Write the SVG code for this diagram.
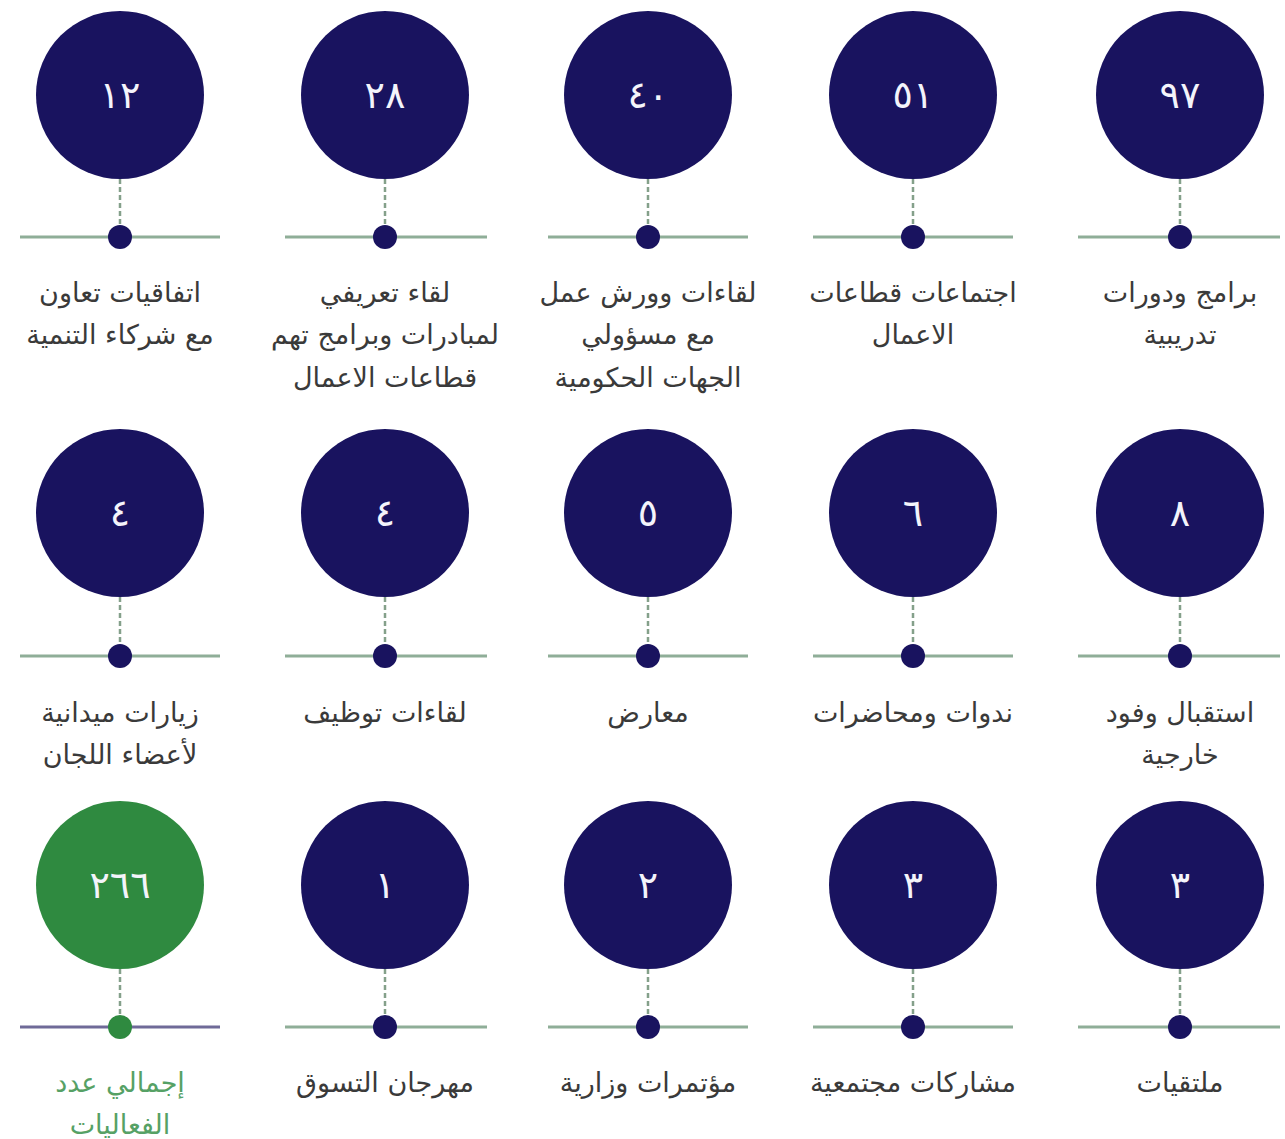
<svg xmlns="http://www.w3.org/2000/svg" width="1285" height="1139" viewBox="0 0 1285 1139">
<style>
.c{fill:#19135f}
.cg{fill:#2f8a40}
.num{font-family:"DejaVu Sans",sans-serif;font-size:38px;fill:#f4f4fb;text-anchor:middle;dominant-baseline:central}
.lbl{font-family:"DejaVu Sans","Noto Sans",sans-serif;font-size:27px;fill:#3a3a3a;text-anchor:middle}
.lblg{fill:#56a165}
.hl{stroke:#8fae98;stroke-width:3}
.hlp{stroke:#6f6a98;stroke-width:3}
.dl{stroke:#84a08a;stroke-width:2.5;stroke-dasharray:5 3}
.dot{fill:#19135f}
.dotg{fill:#2f8a40}
</style>
<rect width="1285" height="1139" fill="#ffffff"/>
<g id="connectors">
<line class="hl" x1="20" y1="237" x2="220" y2="237"/><line class="dl" x1="120" y1="179" x2="120" y2="226"/>
<line class="hl" x1="285" y1="237" x2="487" y2="237"/><line class="dl" x1="385" y1="179" x2="385" y2="226"/>
<line class="hl" x1="548" y1="237" x2="748" y2="237"/><line class="dl" x1="648" y1="179" x2="648" y2="226"/>
<line class="hl" x1="813" y1="237" x2="1013" y2="237"/><line class="dl" x1="913" y1="179" x2="913" y2="226"/>
<line class="hl" x1="1078" y1="237" x2="1280" y2="237"/><line class="dl" x1="1180" y1="179" x2="1180" y2="226"/>
<line class="hl" x1="20" y1="656" x2="220" y2="656"/><line class="dl" x1="120" y1="597" x2="120" y2="645"/>
<line class="hl" x1="285" y1="656" x2="487" y2="656"/><line class="dl" x1="385" y1="597" x2="385" y2="645"/>
<line class="hl" x1="548" y1="656" x2="748" y2="656"/><line class="dl" x1="648" y1="597" x2="648" y2="645"/>
<line class="hl" x1="813" y1="656" x2="1013" y2="656"/><line class="dl" x1="913" y1="597" x2="913" y2="645"/>
<line class="hl" x1="1078" y1="656" x2="1280" y2="656"/><line class="dl" x1="1180" y1="597" x2="1180" y2="645"/>
<line class="hlp" x1="20" y1="1027" x2="220" y2="1027"/><line class="dl" x1="120" y1="969" x2="120" y2="1016"/>
<line class="hl" x1="285" y1="1027" x2="487" y2="1027"/><line class="dl" x1="385" y1="969" x2="385" y2="1016"/>
<line class="hl" x1="548" y1="1027" x2="748" y2="1027"/><line class="dl" x1="648" y1="969" x2="648" y2="1016"/>
<line class="hl" x1="813" y1="1027" x2="1013" y2="1027"/><line class="dl" x1="913" y1="969" x2="913" y2="1016"/>
<line class="hl" x1="1078" y1="1027" x2="1280" y2="1027"/><line class="dl" x1="1180" y1="969" x2="1180" y2="1016"/>
</g>
<g id="n1"><circle class="c" cx="120" cy="95" r="84"/><text class="num" x="120" y="95">١٢</text><circle class="dot" cx="120" cy="237" r="12"/><text class="lbl" x="120" y="302">اتفاقيات تعاون</text><text class="lbl" x="120" y="344">مع شركاء التنمية</text></g>
<g id="n2"><circle class="c" cx="385" cy="95" r="84"/><text class="num" x="385" y="95">٢٨</text><circle class="dot" cx="385" cy="237" r="12"/><text class="lbl" x="385" y="302">لقاء تعريفي</text><text class="lbl" x="385" y="344">لمبادرات وبرامج تهم</text><text class="lbl" x="385" y="387">قطاعات الاعمال</text></g>
<g id="n3"><circle class="c" cx="648" cy="95" r="84"/><text class="num" x="648" y="95">٤٠</text><circle class="dot" cx="648" cy="237" r="12"/><text class="lbl" x="648" y="302">لقاءات وورش عمل</text><text class="lbl" x="648" y="344">مع مسؤولي</text><text class="lbl" x="648" y="387">الجهات الحكومية</text></g>
<g id="n4"><circle class="c" cx="913" cy="95" r="84"/><text class="num" x="913" y="95">٥١</text><circle class="dot" cx="913" cy="237" r="12"/><text class="lbl" x="913" y="302">اجتماعات قطاعات</text><text class="lbl" x="913" y="344">الاعمال</text></g>
<g id="n5"><circle class="c" cx="1180" cy="95" r="84"/><text class="num" x="1180" y="95">٩٧</text><circle class="dot" cx="1180" cy="237" r="12"/><text class="lbl" x="1180" y="302">برامج ودورات</text><text class="lbl" x="1180" y="344">تدريبية</text></g>
<g id="n6"><circle class="c" cx="120" cy="513" r="84"/><text class="num" x="120" y="513">٤</text><circle class="dot" cx="120" cy="656" r="12"/><text class="lbl" x="120" y="722">زيارات ميدانية</text><text class="lbl" x="120" y="764">لأعضاء اللجان</text></g>
<g id="n7"><circle class="c" cx="385" cy="513" r="84"/><text class="num" x="385" y="513">٤</text><circle class="dot" cx="385" cy="656" r="12"/><text class="lbl" x="385" y="722">لقاءات توظيف</text></g>
<g id="n8"><circle class="c" cx="648" cy="513" r="84"/><text class="num" x="648" y="513">٥</text><circle class="dot" cx="648" cy="656" r="12"/><text class="lbl" x="648" y="722">معارض</text></g>
<g id="n9"><circle class="c" cx="913" cy="513" r="84"/><text class="num" x="913" y="513">٦</text><circle class="dot" cx="913" cy="656" r="12"/><text class="lbl" x="913" y="722">ندوات ومحاضرات</text></g>
<g id="n10"><circle class="c" cx="1180" cy="513" r="84"/><text class="num" x="1180" y="513">٨</text><circle class="dot" cx="1180" cy="656" r="12"/><text class="lbl" x="1180" y="722">استقبال وفود</text><text class="lbl" x="1180" y="764">خارجية</text></g>
<g id="n11"><circle class="cg" cx="120" cy="885" r="84"/><text class="num" x="120" y="885">٢٦٦</text><circle class="dotg" cx="120" cy="1027" r="12"/><text class="lbl lblg" x="120" y="1092">إجمالي عدد</text><text class="lbl lblg" x="120" y="1134">الفعاليات</text></g>
<g id="n12"><circle class="c" cx="385" cy="885" r="84"/><text class="num" x="385" y="885">١</text><circle class="dot" cx="385" cy="1027" r="12"/><text class="lbl" x="385" y="1092">مهرجان التسوق</text></g>
<g id="n13"><circle class="c" cx="648" cy="885" r="84"/><text class="num" x="648" y="885">٢</text><circle class="dot" cx="648" cy="1027" r="12"/><text class="lbl" x="648" y="1092">مؤتمرات وزارية</text></g>
<g id="n14"><circle class="c" cx="913" cy="885" r="84"/><text class="num" x="913" y="885">٣</text><circle class="dot" cx="913" cy="1027" r="12"/><text class="lbl" x="913" y="1092">مشاركات مجتمعية</text></g>
<g id="n15"><circle class="c" cx="1180" cy="885" r="84"/><text class="num" x="1180" y="885">٣</text><circle class="dot" cx="1180" cy="1027" r="12"/><text class="lbl" x="1180" y="1092">ملتقيات</text></g>
</svg>
